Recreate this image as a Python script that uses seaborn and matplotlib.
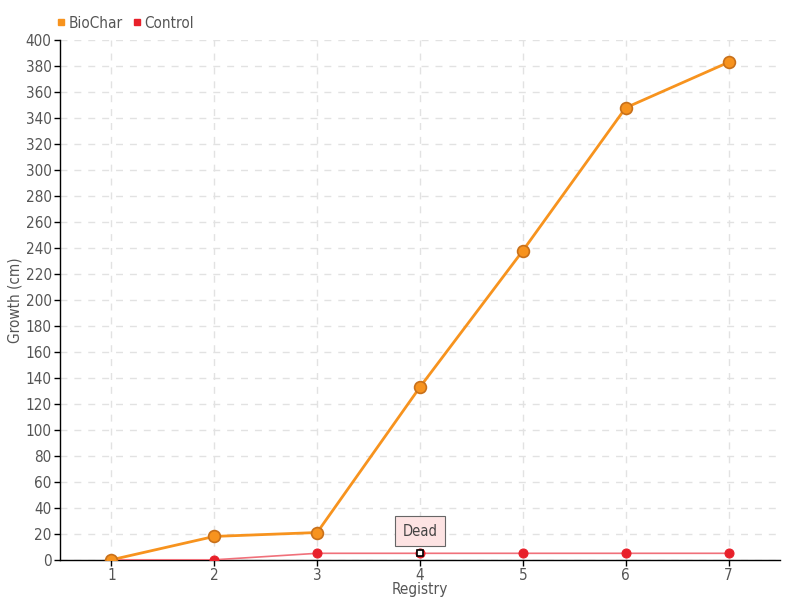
import matplotlib
matplotlib.use("Agg")
import pandas as pd
import seaborn as sns
import matplotlib.pyplot as plt
from matplotlib.lines import Line2D

registry = [1, 2, 3, 4, 5, 6, 7]
biochar = [0, 18, 21, 133, 238, 348, 383]
control = [0, 0, 5, 5, 5, 5, 5]
y_ticks = list(range(0, 401, 20))

df = pd.DataFrame({"Registry": registry * 2,
                   "Growth": biochar + control,
                   "Series": ["BioChar"] * 7 + ["Control"] * 7})

sns.set_style("white")
plt.rcParams["font.family"] = ["DejaVu Sans"]
plt.rcParams["font.stretch"] = "condensed"

fig, ax = plt.subplots(figsize=(8, 6), dpi=100)
fig.subplots_adjust(left=0.075, right=0.975, top=0.933, bottom=0.067)

sns.lineplot(data=df[df.Series == "Control"], x="Registry", y="Growth", color="#f0707a",
             lw=1.2, marker="o", markersize=6.5, markerfacecolor="#e8202a",
             markeredgecolor="#e8202a", ax=ax, zorder=3)
sns.lineplot(data=df[df.Series == "BioChar"], x="Registry", y="Growth", color="#f7931e",
             lw=2, marker="o", markersize=8.5, markerfacecolor="#f7931e",
             markeredgecolor="#c8701a", markeredgewidth=1.2, ax=ax, zorder=4)
# highlighted control point
ax.plot(registry[3], control[3], "s", ms=4.5, mfc="white", mec="black", mew=1.2, zorder=5)
ax.annotate("Dead", xy=(registry[3], control[3]), xytext=(0, 16), textcoords="offset points",
            ha="center", va="center", fontsize=10.5, color="#444444",
            bbox=dict(boxstyle="square,pad=0.5", fc="#fde3e3", ec="#666666", lw=0.8),
            arrowprops=dict(arrowstyle="-", color="#666666", lw=0.8))

ax.set_xlim(0.5, 7.5)
ax.set_ylim(0, 400)
ax.set_xticks(registry)
ax.set_yticks(y_ticks)
ax.grid(True, color="#e2e2e2", ls=(0, (5, 5)), lw=1)
for s in ["top", "right"]:
    ax.spines[s].set_visible(False)
for s in ["left", "bottom"]:
    ax.spines[s].set_color("black")
    ax.spines[s].set_linewidth(1)
ax.tick_params(axis="both", length=4, width=1, color="black", labelsize=11,
               labelcolor="#555555", left=True, bottom=True, pad=2)
ax.set_xlabel("Registry", fontsize=11, color="#555555", labelpad=-1)
ax.set_ylabel("Growth (cm)", fontsize=11, color="#555555", labelpad=2)

handles = [Line2D([], [], ls="", marker="s", ms=4.5, color="#f7931e"),
           Line2D([], [], ls="", marker="s", ms=4.5, color="#e8202a")]
fig.legend(handles, ["BioChar", "Control"], loc="upper left", bbox_to_anchor=(0.05, 0.997),
           ncol=2, frameon=False, fontsize=11, handletextpad=0.0, columnspacing=0.4,
           handlelength=1.0, labelcolor="#555555")

fig.savefig("out.png", dpi=100)
